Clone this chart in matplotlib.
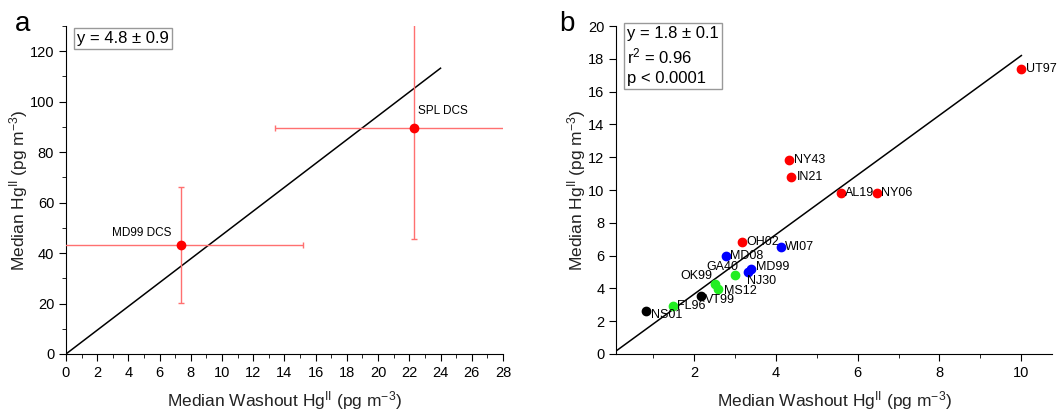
import numpy as np
import matplotlib
matplotlib.use("Agg")
import matplotlib.pyplot as plt
from matplotlib.ticker import MultipleLocator

plt.rcParams['font.family'] = ['Liberation Sans', 'DejaVu Sans']
plt.rcParams['mathtext.default'] = 'regular'

# panel a: DCS sites with error bars
a_names = ['MD99 DCS', 'SPL DCS']
a_x = [7.4, 22.3]
a_y = [43.2, 89.6]
a_xerr = [7.8, 8.9]
a_yerr = [23.0, 44.0]
a_slope = 4.72
a_line_end = 24.0

# panel b: sites, coloured by group
b_names = ['UT97', 'NY43', 'IN21', 'AL19', 'NY06', 'OH02',
           'WI07', 'MD08', 'MD99', 'NJ30',
           'GA40', 'OK99', 'MS12', 'FL96',
           'VT99', 'NS01']
b_x = [10.0, 4.32, 4.38, 5.60, 6.48, 3.17,
       4.13, 2.78, 3.39, 3.33,
       3.01, 2.51, 2.60, 1.49,
       2.17, 0.84]
b_y = [17.4, 11.8, 10.8, 9.82, 9.84, 6.85,
       6.55, 6.0, 5.2, 5.02,
       4.82, 4.25, 3.94, 2.91,
       3.52, 2.62]
b_group = ['r', 'r', 'r', 'r', 'r', 'r',
           'b', 'b', 'b', 'b',
           'g', 'g', 'g', 'g',
           'k', 'k']
b_slope = 1.82
b_line = [0.1, 10.0]

colors = {'r': '#ff0000', 'b': '#0000ff', 'g': '#22ee22', 'k': '#000000'}
# label offsets in points (dx, dy, ha)
b_offsets = {
    'UT97': (3, 0, 'left'), 'NY43': (4, 0, 'left'), 'IN21': (4, 0, 'left'),
    'AL19': (3, 0, 'left'), 'NY06': (3, 0, 'left'), 'OH02': (3, 0, 'left'),
    'WI07': (3, 0, 'left'), 'MD08': (3, 0, 'left'), 'MD99': (4, 1, 'left'),
    'NJ30': (-1, -7, 'left'), 'GA40': (2, 6, 'right'), 'OK99': (-2, 6, 'right'),
    'MS12': (4, -1, 'left'), 'FL96': (3, 0, 'left'), 'VT99': (3, -3, 'left'),
    'NS01': (3, -3, 'left'),
}

fig = plt.figure(figsize=(10.64, 4.11), dpi=100)
ax1 = fig.add_axes([0.062, 0.1387, 0.4107, 0.798])
ax2 = fig.add_axes([0.579, 0.1387, 0.4098, 0.798])

xlabel = 'Median Washout Hg$^{II}$ (pg m$^{-3}$)'
ylabel = 'Median Hg$^{II}$ (pg m$^{-3}$)'

for ax in (ax1, ax2):
    ax.spines['top'].set_visible(False)
    ax.spines['right'].set_visible(False)
    ax.tick_params(which='major', direction='out', length=5, labelsize=10.5)
    ax.tick_params(which='minor', direction='out', length=3)
    ax.set_xlabel(xlabel, fontsize=12.5, color='#222222', labelpad=7)
    ax.set_ylabel(ylabel, fontsize=12.5, color='#222222', labelpad=0)

# ---- panel a
ax1.errorbar(a_x, a_y, xerr=a_xerr, yerr=a_yerr, fmt='o', color='#ff0000',
             ms=6, ecolor='#ff7070', elinewidth=1, capsize=2.5, capthick=1, zorder=3)
lx = np.array([0, a_line_end])
ax1.plot(lx, a_slope * lx, color='black', lw=1.1)
ax1.annotate(a_names[0], (a_x[0], a_y[0]), xytext=(-7, 9), textcoords='offset points',
             ha='right', va='center', fontsize=8.5)
ax1.annotate(a_names[1], (a_x[1], a_y[1]), xytext=(3, 12), textcoords='offset points',
             ha='left', va='center', fontsize=8.5)
ax1.set_xlim(0, 28)
ax1.set_ylim(0, 130)
ax1.xaxis.set_major_locator(MultipleLocator(2))
ax1.xaxis.set_minor_locator(MultipleLocator(1))
ax1.yaxis.set_major_locator(MultipleLocator(20))
ax1.yaxis.set_minor_locator(MultipleLocator(10))
ax1.text(0.025, 0.985, 'y = 4.8 ± 0.9', transform=ax1.transAxes, ha='left', va='top',
         fontsize=12, bbox=dict(boxstyle='square,pad=0.2', fc='white', ec='#999999'))

# ---- panel b
for name, x, y, g in zip(b_names, b_x, b_y, b_group):
    ax2.plot(x, y, 'o', color=colors[g], ms=6, zorder=3)
    dx, dy, ha = b_offsets[name]
    ax2.annotate(name, (x, y), xytext=(dx, dy), textcoords='offset points',
                 ha=ha, va='center', fontsize=9)
lx = np.array(b_line)
ax2.plot(lx, b_slope * lx, color='black', lw=1.1)
ax2.set_xlim(0.1, 10.75)
ax2.set_ylim(0, 20)
ax2.xaxis.set_major_locator(MultipleLocator(2))
ax2.xaxis.set_minor_locator(MultipleLocator(1))
ax2.yaxis.set_major_locator(MultipleLocator(2))
ax2.text(0.025, 1.0, 'y = 1.8 ± 0.1\nr$^2$ = 0.96\np < 0.0001', transform=ax2.transAxes,
         ha='left', va='top', fontsize=12, linespacing=1.35,
         bbox=dict(boxstyle='square,pad=0.2', fc='white', ec='#999999'))

fig.text(0.014, 0.925, 'a', fontsize=20, ha='left', va='baseline')
fig.text(0.526, 0.925, 'b', fontsize=20, ha='left', va='baseline')

fig.savefig('out.png', dpi=100)
